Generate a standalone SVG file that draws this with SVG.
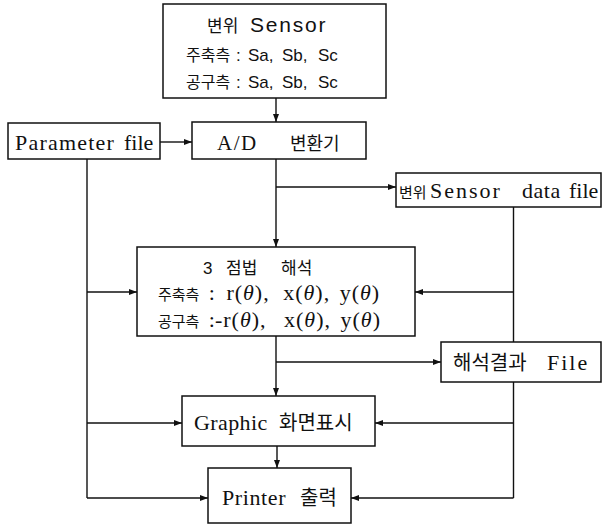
<svg xmlns="http://www.w3.org/2000/svg" width="609" height="525" viewBox="0 0 609 525">
<style>
.box{fill:#fff;stroke:#111;stroke-width:1.5}
.ln{fill:none;stroke:#111;stroke-width:1.4}
.ar{marker-end:url(#ah)}
text{fill:#111}
.t{font-family:"Liberation Serif","Noto Sans CJK KR",serif;font-size:22px}
.s{font-family:"Liberation Sans","Noto Sans CJK KR",sans-serif;font-size:17px}
.k{font-family:"Noto Sans CJK KR",sans-serif}
.th{letter-spacing:1px}
</style>
<defs>
<marker id="ah" markerUnits="userSpaceOnUse" markerWidth="8" markerHeight="6" refX="8" refY="3" orient="auto">
<path d="M0,0 L8,3 L0,6 z" fill="#111"/>
</marker>
</defs>
<g id="connectors">
<line class="ln ar" x1="276" y1="98" x2="276" y2="122"/>
<line class="ln ar" x1="160" y1="142" x2="192" y2="142"/>
<line class="ln ar" x1="276" y1="159" x2="276" y2="247"/>
<line class="ln ar" x1="276" y1="187" x2="396" y2="187"/>
<line class="ln" x1="87" y1="159" x2="87" y2="498"/>
<line class="ln" x1="513.5" y1="207" x2="513.5" y2="342"/>
<line class="ln" x1="513.5" y1="382" x2="513.5" y2="498"/>
<line class="ln ar" x1="87" y1="292" x2="137" y2="292"/>
<line class="ln ar" x1="513.5" y1="292" x2="415" y2="292"/>
<line class="ln ar" x1="276" y1="336" x2="276" y2="396"/>
<line class="ln ar" x1="276" y1="362" x2="441" y2="362"/>
<line class="ln ar" x1="87" y1="423" x2="182" y2="423"/>
<line class="ln ar" x1="513.5" y1="423" x2="375" y2="423"/>
<line class="ln ar" x1="277" y1="446" x2="277" y2="468"/>
<line class="ln ar" x1="87" y1="498" x2="208" y2="498"/>
<line class="ln ar" x1="513.5" y1="498" x2="351" y2="498"/>
</g>
<g id="sensor">
<rect class="box" x="163" y="4" width="223" height="94"/>
<text class="s" y="32"><tspan class="k" x="207" font-size="17">변위 </tspan><tspan x="250" font-size="21" letter-spacing="1.8">Sensor</tspan></text>
<text class="s" y="61"><tspan class="k" x="186" font-size="16">주축측 </tspan><tspan x="236">: </tspan><tspan x="248">Sa, </tspan><tspan x="282">Sb, </tspan><tspan x="318">Sc</tspan></text>
<text class="s" y="88"><tspan class="k" x="186" font-size="16">공구측 </tspan><tspan x="236">: </tspan><tspan x="248">Sa, </tspan><tspan x="282">Sb, </tspan><tspan x="318">Sc</tspan></text>
</g>
<g id="param">
<rect class="box" x="8" y="123" width="152" height="36"/>
<text class="t" y="150" font-size="20"><tspan x="15" letter-spacing="1.2">Parameter </tspan><tspan x="124">file</tspan></text>
</g>
<g id="adc">
<rect class="box" x="192" y="122" width="174" height="37"/>
<text class="t" y="150"><tspan x="217" font-size="21" letter-spacing="1.5">A/D  </tspan><tspan class="k" x="290" font-size="18">변환기</tspan></text>
</g>
<g id="sensordata">
<rect class="box" x="396" y="173" width="205" height="34"/>
<text class="t" y="198"><tspan class="k" x="399" font-size="15">변위</tspan><tspan x="430" letter-spacing="2">Sensor </tspan><tspan x="522" letter-spacing="0.5">data </tspan><tspan x="569">file</tspan></text>
</g>
<g id="analysis">
<rect class="box" x="137" y="247" width="278" height="89"/>
<text class="s" y="274" font-size="19"><tspan x="203">3 </tspan><tspan class="k" x="226">점법 </tspan><tspan class="k" x="281">해석</tspan></text>
<text class="t" x="158" y="300" font-size="18"><tspan class="k" font-size="15">주축측 </tspan><tspan dx="6">: </tspan><tspan class="th" dx="6">r(<tspan font-style="italic">θ</tspan>), </tspan><tspan class="th" dx="7">x(<tspan font-style="italic">θ</tspan>), </tspan><tspan class="th" dx="3">y(<tspan font-style="italic">θ</tspan>)</tspan></text>
<text class="t" x="158" y="327" font-size="18"><tspan class="k" font-size="15">공구측 </tspan><tspan dx="6">:-</tspan><tspan class="th" dx="1">r(<tspan font-style="italic">θ</tspan>), </tspan><tspan class="th" dx="11">x(<tspan font-style="italic">θ</tspan>), </tspan><tspan class="th" dx="3">y(<tspan font-style="italic">θ</tspan>)</tspan></text>
</g>
<g id="result">
<rect class="box" x="441" y="342" width="160" height="40"/>
<text class="t" y="370"><tspan class="k" x="453" font-size="20">해석결과 </tspan><tspan x="547" letter-spacing="2">File</tspan></text>
</g>
<g id="graphic">
<rect class="box" x="182" y="396" width="193" height="50"/>
<text class="t" y="430"><tspan x="194" letter-spacing="0.4">Graphic </tspan><tspan class="k" x="279" font-size="20">화면표시</tspan></text>
</g>
<g id="printer">
<rect class="box" x="208" y="468" width="143" height="55"/>
<text class="t" y="505"><tspan x="222" letter-spacing="0.6">Printer </tspan><tspan class="k" x="300" font-size="20">출력</tspan></text>
</g>
</svg>
